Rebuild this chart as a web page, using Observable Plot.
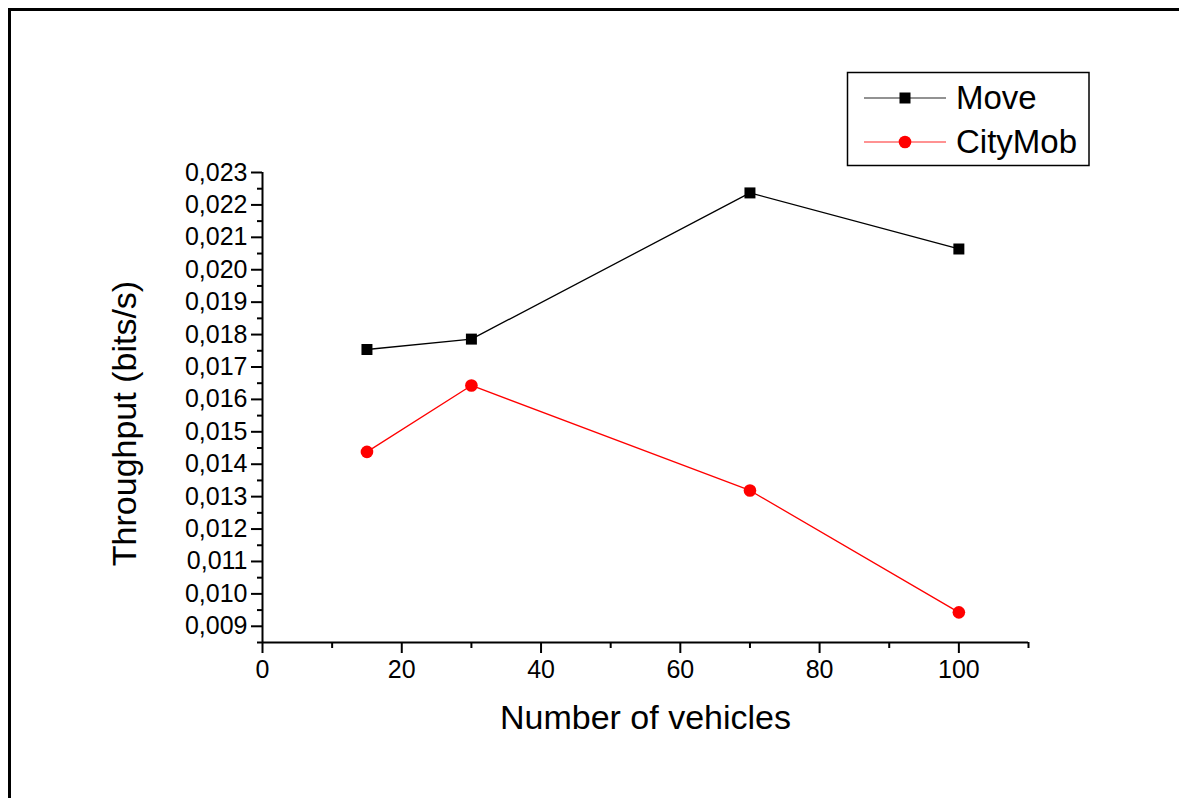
<!DOCTYPE html>
<html>
<head>
<meta charset="utf-8">
<script src="https://cdn.jsdelivr.net/npm/d3@7"></script>
<script src="https://cdn.jsdelivr.net/npm/@observablehq/plot@0.6"></script>
<style>
  html, body { margin: 0; padding: 0; background: #fff; }
  #wrap { position: relative; width: 1179px; height: 798px; overflow: hidden; background: #fff; font-family: "Liberation Sans", Arial, sans-serif; }
  #border { position: absolute; left: 8px; top: 8px; width: 1200px; height: 820px; border-top: 3px solid #000; border-left: 3px solid #000; box-sizing: border-box; pointer-events: none; }
  #chart, #legend { position: absolute; left: 0; top: 0; }
</style>
</head>
<body>
<div id="wrap">
  <div id="border"></div>
  <div id="chart"></div>
  <svg id="legend" width="1179" height="798"></svg>
</div>
<script>
// ---- data ----
const vehicles = [15, 30, 70, 100];
const moveThroughput = [0.01754, 0.01786, 0.02237, 0.02064];
const cityMobThroughput = [0.01438, 0.01643, 0.01319, 0.00943];
const seriesNames = ["Move", "CityMob"];
const xMajorTicks = [0, 20, 40, 60, 80, 100];
const xMinorTicks = [10, 30, 50, 70, 90, 110];
const yMajorTicks = [0.009, 0.010, 0.011, 0.012, 0.013, 0.014, 0.015, 0.016, 0.017, 0.018, 0.019, 0.020, 0.021, 0.022, 0.023];
const yMinorTicks = [0.0085, 0.0095, 0.0105, 0.0115, 0.0125, 0.0135, 0.0145, 0.0155, 0.0165, 0.0175, 0.0185, 0.0195, 0.0205, 0.0215, 0.0225];
const xTitle = "Number of vehicles";
const yTitle = "Throughput (bits/s)";

const moveData = vehicles.map((v, i) => ({x: v, y: moveThroughput[i]}));
const cityData = vehicles.map((v, i) => ({x: v, y: cityMobThroughput[i]}));

const fmt = d => d.toFixed(3).replace(".", ",");
const font = "Liberation Sans, Arial, sans-serif";

const plot = Plot.plot({
  width: 1179,
  height: 798,
  marginLeft: 262,
  marginRight: 151,
  marginTop: 172,
  marginBottom: 156,
  style: {fontFamily: font, fontSize: "25px", background: "transparent", color: "#000", overflow: "visible"},
  x: {domain: [0, 110]},
  y: {domain: [0.0085, 0.023]},
  marks: [
    Plot.axisY(yMinorTicks, {tickSize: 5, strokeWidth: 2, tickFormat: () => "", label: null}),
    Plot.axisY(yMajorTicks, {tickSize: 11, tickPadding: 4, strokeWidth: 2, tickFormat: fmt, fontSize: 25, label: null}),
    Plot.axisX(xMinorTicks, {tickSize: 6, strokeWidth: 2, tickFormat: () => "", label: null}),
    Plot.axisX(xMajorTicks, {tickSize: 11, tickPadding: 7, strokeWidth: 2, fontSize: 25, label: null}),
    Plot.ruleX([0], {y1: 0.0085, y2: 0.023, strokeWidth: 2}),
    Plot.ruleY([0.0085], {x1: 0, x2: 110, strokeWidth: 2}),
    Plot.line(moveData, {x: "x", y: "y", stroke: "#000", strokeWidth: 1.3}),
    Plot.line(cityData, {x: "x", y: "y", stroke: "#ff0000", strokeWidth: 1.3}),
    Plot.dot(moveData, {x: "x", y: "y", symbol: "square", r: 6.2, fill: "#000", stroke: "none"}),
    Plot.dot(cityData, {x: "x", y: "y", symbol: "circle", r: 6.3, fill: "#ff0000", stroke: "none"}),
    Plot.text([xTitle], {frameAnchor: "bottom", dy: 86, lineAnchor: "bottom", fontSize: 34, fill: "#000"}),
    Plot.text([yTitle], {frameAnchor: "left", rotate: -90, dx: -127, dy: 16, lineAnchor: "bottom", textAnchor: "middle", fontSize: 34, fill: "#000"})
  ]
});
document.getElementById("chart").appendChild(plot);

// ---- legend ----
const lg = d3.select("#legend").style("font-family", font);
lg.append("rect").attr("x", 847.5).attr("y", 72.5).attr("width", 241.5).attr("height", 93)
  .attr("fill", "#fff").attr("stroke", "#000").attr("stroke-width", 1.5);
const rows = [
  {name: seriesNames[0], color: "#000", symbol: d3.symbolSquare, size: 121, y: 98},
  {name: seriesNames[1], color: "#ff0000", symbol: d3.symbolCircle, size: 125, y: 142}
];
rows.forEach(r => {
  lg.append("line").attr("x1", 864).attr("x2", 946).attr("y1", r.y).attr("y2", r.y)
    .attr("stroke", r.color).attr("stroke-width", 1.2).attr("opacity", 0.85);
  lg.append("path").attr("d", d3.symbol(r.symbol, r.size)()).attr("transform", `translate(905,${r.y})`).attr("fill", r.color);
  lg.append("text").attr("x", 956).attr("y", r.y + 11).attr("font-size", 33).attr("fill", "#000").text(r.name);
});
</script>
</body>
</html>
